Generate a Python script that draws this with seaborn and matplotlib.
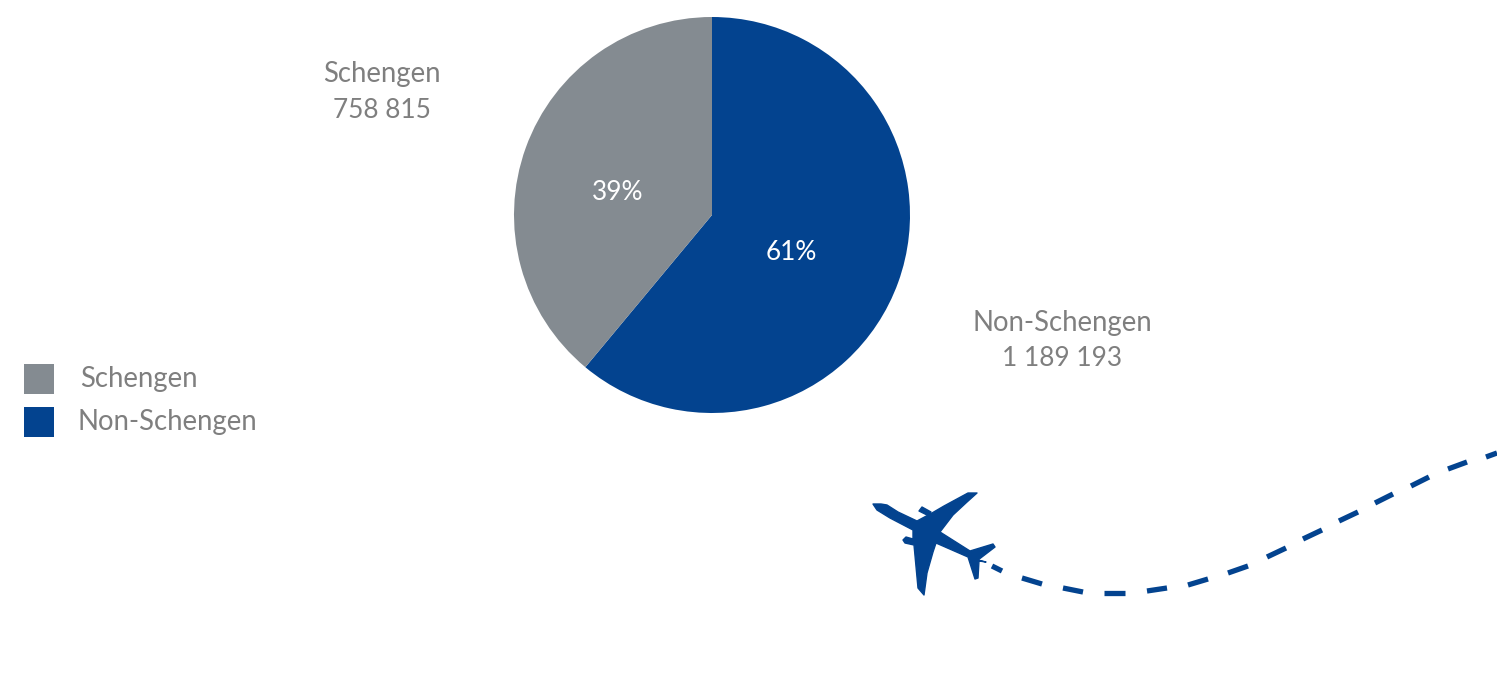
import matplotlib
matplotlib.use("Agg")
import matplotlib.pyplot as plt
from matplotlib.patches import Polygon, Rectangle
import pandas as pd
import seaborn as sns

W, H = 1497, 679

categories = ["Non-Schengen", "Schengen"]
passengers = [1189193, 758815]
value_labels = ["1 189 193", "758 815"]
share_labels = ["61%", "39%"]
legend_order = ["Schengen", "Non-Schengen"]

BLUE = "#03438F"
GREY = "#848B91"
TEXT = "#7F7F7F"
FONT = "Lato"

# Flight path dashes, as start and end in canvas pixels
route_x = [(992, 1002), (1022, 1042), (1063, 1083), (1104, 1125), (1147, 1167),
           (1188, 1208), (1228, 1248), (1267, 1286), (1303, 1322), (1339, 1358),
           (1375, 1393), (1411, 1429), (1448, 1467), (1486, 1497)]
route_y = [(566, 571), (578, 584), (588, 592), (593, 593), (591, 588),
           (585, 579), (573, 566), (557, 548), (539, 530), (521, 512),
           (503, 494), (486, 477), (469, 462), (457, 453)]

# Aircraft silhouette outline, in canvas pixels
plane_body = [(873, 504), (881, 504), (887, 505), (898, 512), (917, 521), (932, 513),
              (944, 506), (968, 493), (977, 493), (967, 502), (953, 515), (940, 532),
              (970, 551), (993, 544), (995, 547), (978, 560), (986, 562), (979, 561),
              (978, 578), (975, 579), (968, 557), (936, 543), (933, 552), (927, 573),
              (924, 595), (918, 588), (914, 545), (905, 543), (903, 540), (906, 537),
              (913, 539), (913, 530), (890, 518), (877, 510)]
plane_engine = [(919, 511), (922, 507), (931, 512), (929, 516)]

sns.set_theme(style="white", rc={"font.family": [FONT, "DejaVu Sans"]})

fig = plt.figure(figsize=(W / 100, H / 100), dpi=100, facecolor="white")

# Pie, centred at (712, 215) with radius 198 pixels
side = 2 * 198
pie_ax = fig.add_axes([(712 - 198) / W, 1 - (215 + 198) / H, side / W, side / H], zorder=1)
wedges, _ = pie_ax.pie(passengers, colors=[BLUE, GREY], startangle=90, counterclock=False,
                       radius=1.0, wedgeprops={"edgecolor": "none", "linewidth": 0})
pie_ax.set_xlim(-1, 1)
pie_ax.set_ylim(-1, 1)

# Full-canvas layer addressed in pixels, for annotations and decoration
canvas = fig.add_axes([0, 0, 1, 1], zorder=2)
canvas.patch.set_alpha(0)
canvas.set_xlim(0, W)
canvas.set_ylim(H, 0)
canvas.axis("off")

size = 19.8
number_size = 18.9
for (x, y), share in zip([(791, 253), (618, 192)], share_labels):
    canvas.text(x, y, share, color="white", fontsize=number_size, ha="center", va="center", zorder=5)

label_pos = {"Schengen": (382, 74), "Non-Schengen": (1062, 323)}
for name, amount in zip(categories, value_labels):
    x, y = label_pos[name]
    canvas.text(x, y, name, color=TEXT, fontsize=size, ha="center", va="center")
    canvas.text(x, y + 36, amount, color=TEXT, fontsize=number_size, ha="center", va="center")

# Legend swatches and names
swatch = {"Schengen": GREY, "Non-Schengen": BLUE}
legend_rows = {"Schengen": (364, 80, 379), "Non-Schengen": (407, 77, 422)}
for name in legend_order:
    top, text_x, text_y = legend_rows[name]
    canvas.add_patch(Rectangle((24, top), 30, 30, facecolor=swatch[name], edgecolor="none"))
    canvas.text(text_x, text_y, name, color=TEXT, fontsize=size, ha="left", va="center")

# Dashed flight path
route = pd.DataFrame(
    [{"dash": i, "x": px, "y": py}
     for i, (xs, ys) in enumerate(zip(route_x, route_y))
     for px, py in zip(xs, ys)]
)
sns.lineplot(data=route, x="x", y="y", units="dash", estimator=None, sort=False,
             color=BLUE, linewidth=3.8, solid_capstyle="butt", ax=canvas, legend=False)
canvas.set_xlim(0, W)
canvas.set_ylim(H, 0)

# Aircraft, with a thin stroke to round off the traced corners
for outline in (plane_body, plane_engine):
    canvas.add_patch(Polygon(outline, closed=True, facecolor=BLUE, edgecolor=BLUE,
                             linewidth=1.0, joinstyle="round", zorder=4))

fig.savefig("out.png", dpi=100, facecolor="white")
